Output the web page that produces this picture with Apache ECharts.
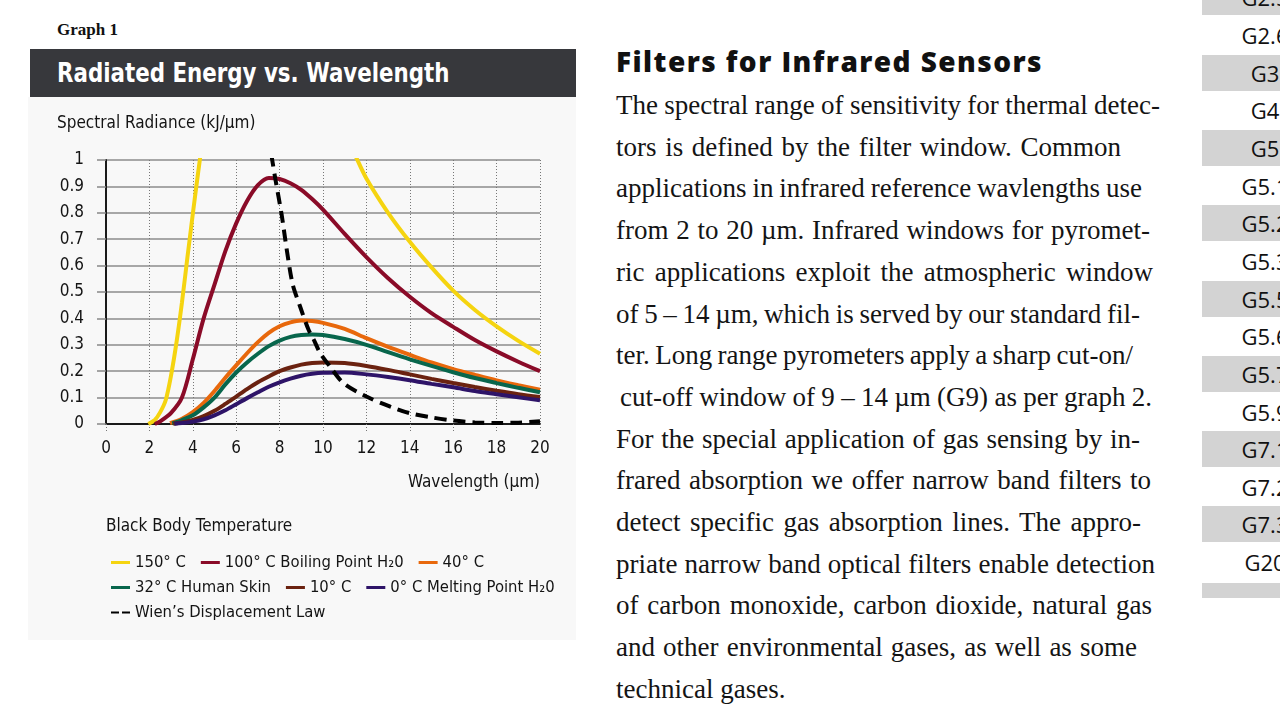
<!DOCTYPE html>
<html>
<head>
<meta charset="utf-8">
<title>Radiated Energy vs. Wavelength</title>
<script src="https://cdn.jsdelivr.net/npm/echarts@6/dist/echarts.min.js"></script>
<style>
  html, body { margin: 0; padding: 0; background: #fff; }
  body { width: 1280px; height: 720px; position: relative; overflow: hidden; }
  #panel { position: absolute; left: 28px; top: 97px; width: 548px; height: 543px; background: #f8f8f8; }
  #chart { position: absolute; left: 0; top: 0; width: 600px; height: 720px; }
  #graphNo { position: absolute; left: 57px; top: 20px; font: bold 17px 'Liberation Serif', serif; color: #111; }
  #titleBar { position: absolute; left: 30px; top: 49px; width: 546px; height: 48px; background: #37383c; }
  #titleBar span { position: absolute; left: 27px; top: 8px; color: #fff; line-height: 32px; white-space: pre;
    font: bold 27px 'DejaVu Sans Condensed', 'DejaVu Sans', sans-serif;
    transform: scaleX(0.88); transform-origin: left center; }
  #heading { position: absolute; left: 616px; top: 42px; font: 800 28px 'Open Sans', 'Noto Sans', sans-serif;
    color: #111; white-space: pre; }
  .line { position: absolute; left: 616px; font: 27px 'Liberation Serif', serif; color: #141414;
    white-space: pre; height: 40px; line-height: 40px; }
  .row { position: absolute; left: 1202px; width: 126px; text-align: center; font: 22px 'Open Sans', sans-serif; color: #111; }
</style>
</head>
<body>
<div id="panel"></div>
<div id="graphNo">Graph 1</div>
<div id="titleBar"><span>Radiated Energy vs. Wavelength</span></div>
<div id="chart"></div>
<div id="heading">Filters for Infrared Sensors</div>
<div id="text"></div>
<div id="table"></div>
<script>
// wavelength (µm) / spectral radiance (kJ/µm)
const wavelength150 = [1.95, 2.25, 2.5, 2.75, 3.0, 3.25, 3.5, 3.75, 4.0, 4.25, 4.5, 5, 5.5, 6, 7, 8, 9, 10, 11, 11.5, 12, 13, 14, 15, 16, 17, 18, 19, 20];
const radiance150  = [0, 0.015, 0.045, 0.09, 0.185, 0.31, 0.46, 0.63, 0.795, 0.955, 1.1, 1.33, 1.5, 1.62, 1.72, 1.65, 1.49, 1.3, 1.1, 1.015, 0.93, 0.8, 0.69, 0.593, 0.505, 0.432, 0.37, 0.315, 0.266];

const wavelength100 = [2.25, 2.5, 3.0, 3.5, 4.0, 4.5, 5.0, 5.5, 6.0, 6.5, 7.0, 7.5, 8.0, 8.5, 9.0, 9.5, 10, 11, 12, 13, 14, 15, 16, 17, 18, 19, 20];
const radiance100  = [0, 0.01, 0.042, 0.1, 0.245, 0.4, 0.528, 0.655, 0.76, 0.845, 0.905, 0.932, 0.928, 0.912, 0.887, 0.852, 0.812, 0.72, 0.632, 0.552, 0.482, 0.42, 0.368, 0.318, 0.275, 0.236, 0.2];

const wavelength40 = [2.95, 3.5, 4, 4.5, 5, 5.5, 6, 6.5, 7, 7.5, 8, 8.5, 9, 9.5, 10, 11, 12, 13, 14, 15, 16, 17, 18, 19, 20];
const radiance40  = [0.003, 0.02, 0.045, 0.08, 0.125, 0.175, 0.222, 0.268, 0.31, 0.345, 0.37, 0.385, 0.392, 0.39, 0.383, 0.36, 0.325, 0.292, 0.262, 0.233, 0.208, 0.186, 0.165, 0.147, 0.13];

const wavelength32 = [3.05, 3.5, 4, 4.5, 5, 5.5, 6, 6.5, 7, 7.5, 8, 8.5, 9, 9.5, 10, 11, 12, 13, 14, 15, 16, 17, 18, 19, 20];
const radiance32  = [0.002, 0.015, 0.033, 0.063, 0.1, 0.15, 0.195, 0.233, 0.266, 0.295, 0.316, 0.33, 0.337, 0.339, 0.337, 0.322, 0.3, 0.272, 0.245, 0.22, 0.196, 0.174, 0.155, 0.137, 0.12];

const wavelength10 = [3.1, 3.5, 4, 4.5, 5, 5.5, 6, 6.5, 7, 7.5, 8, 8.5, 9, 9.5, 10, 11, 12, 13, 14, 15, 16, 17, 18, 19, 20];
const radiance10  = [0.001, 0.006, 0.015, 0.03, 0.05, 0.076, 0.104, 0.132, 0.158, 0.18, 0.2, 0.214, 0.225, 0.231, 0.233, 0.231, 0.22, 0.205, 0.188, 0.171, 0.155, 0.14, 0.126, 0.113, 0.102];

const wavelength0 = [3.15, 3.5, 4, 4.5, 5, 5.5, 6, 6.5, 7, 7.5, 8, 8.5, 9, 9.5, 10, 11, 12, 13, 14, 15, 16, 17, 18, 19, 20];
const radiance0  = [0.001, 0.004, 0.009, 0.018, 0.033, 0.052, 0.075, 0.098, 0.12, 0.141, 0.158, 0.172, 0.183, 0.19, 0.194, 0.195, 0.188, 0.178, 0.166, 0.152, 0.139, 0.125, 0.113, 0.101, 0.09];

const wavelengthWien = [7.62, 7.8, 8.1, 8.33, 8.6, 8.94, 9.32, 9.6, 9.86, 10.32, 10.94, 12, 13.1, 14, 15, 16, 17, 18, 19, 20];
const radianceWien  = [1.02, 0.93, 0.79, 0.66, 0.53, 0.446, 0.36, 0.315, 0.27, 0.218, 0.155, 0.104, 0.066, 0.041, 0.025, 0.013, 0.006, 0.004, 0.005, 0.01];

const names = ['150° C', '100° C Boiling Point H₂0', '40° C', '32° C Human Skin', '10° C', '0° C Melting Point H₂0', 'Wien’s Displacement Law'];
const colors = ['#f5d410', '#8a0b28', '#e8680c', '#08664c', '#6b2210', '#2e1468', '#000000'];

const bodyLines = [
  'The spectral range of sensitivity for thermal detec-',
  'tors is defined by the filter window. Common',
  'applications in infrared reference wavlengths use',
  'from 2 to 20 µm. Infrared windows for pyromet-',
  'ric applications exploit the atmospheric window',
  'of 5 – 14 µm, which is served by our standard fil-',
  'ter. Long range pyrometers apply a sharp cut-on/',
  'cut-off window of 9 – 14 µm (G9) as per graph 2.',
  'For the special application of gas sensing by in-',
  'frared absorption we offer narrow band filters to',
  'detect specific gas absorption lines. The appro-',
  'priate narrow band optical filters enable detection',
  'of carbon monoxide, carbon dioxide, natural gas',
  'and other environmental gases, as well as some',
  'technical gases.'
];
const lineStarts = [616, 616, 616, 616, 616, 616, 616, 620, 616, 616, 616, 616, 616, 616, 616];
const lineEnds = [1160, 1121, 1142, 1150, 1153, 1140, 1133, 1152, 1140, 1151, 1141, 1155, 1152, 1137, 0];

const tableRows = ['G2.5', 'G2.6', 'G3', 'G4', 'G5', 'G5.1', 'G5.2', 'G5.3', 'G5.5', 'G5.6', 'G5.7', 'G5.9', 'G7.1', 'G7.2', 'G7.3', 'G20', ''];

function pairs(xs, ys) {
  return xs.map(function (x, i) { return [x, ys[i]]; });
}

// heading stretched to the width it has on the page
const heading = document.getElementById('heading');
const headW = heading.getBoundingClientRect().width;
heading.style.letterSpacing = ((1043 - 616 - headW) / heading.textContent.length) + 'px';

// paragraph lines, spread to the line ends of the page
const textBox = document.getElementById('text');
bodyLines.forEach(function (t, i) {
  const d = document.createElement('div');
  d.className = 'line';
  d.textContent = t;
  d.style.top = (85 + i * 41.7) + 'px';
  d.style.left = lineStarts[i] + 'px';
  textBox.appendChild(d);
  if (lineEnds[i]) {
    const natural = d.getBoundingClientRect().width;
    const spaces = t.split(' ').length - 1;
    d.style.wordSpacing = ((lineEnds[i] - lineStarts[i] - natural) / spaces) + 'px';
  }
});

// table strip on the right
const table = document.getElementById('table');
tableRows.forEach(function (t, i) {
  const c = 35 + (i - 1) * 37.65;
  const d = document.createElement('div');
  d.className = 'row';
  d.textContent = t;
  let top = c - 18, h = 36;
  if (i === tableRows.length - 1) { top = 583; h = 15; }
  d.style.top = top + 'px';
  d.style.height = h + 'px';
  d.style.lineHeight = '36px';
  if (i % 2 === 0) d.style.background = '#d3d3d3';
  table.appendChild(d);
});

const condensed = "'DejaVu Sans Condensed', 'DejaVu Sans', sans-serif";
const chart = echarts.init(document.getElementById('chart'), null, { renderer: 'canvas' });

const seriesData = [
  pairs(wavelength150, radiance150),
  pairs(wavelength100, radiance100),
  pairs(wavelength40, radiance40),
  pairs(wavelength32, radiance32),
  pairs(wavelength10, radiance10),
  pairs(wavelength0, radiance0),
  pairs(wavelengthWien, radianceWien)
];

const series = seriesData.map(function (d, i) {
  return {
    name: names[i],
    type: 'line',
    data: d,
    smooth: 0.3,
    symbol: 'none',
    clip: true,
    color: colors[i],
    lineStyle: {
      width: 4,
      color: colors[i],
      type: i === 6 ? [12, 7] : 'solid'
    },
    z: i === 6 ? 5 : 3
  };
});

function legendRow(items, top) {
  return {
    top: top,
    left: 106,
    orient: 'horizontal',
    itemWidth: 19,
    itemHeight: 3,
    itemGap: 15,
    icon: 'rect',
    textStyle: { fontFamily: condensed, fontSize: 16.5, color: '#141414' },
    data: items.map(function (n) {
      if (n === names[6]) return { name: n, icon: 'path://M0,0h8v2h-8z M11,0h8v2h-8z' };
      return n;
    })
  };
}

const option = {
  animation: false,
  grid: { left: 106, top: 160, width: 434, height: 264, containLabel: false },
  xAxis: {
    type: 'value',
    min: 0,
    max: 20,
    interval: 2,
    axisLine: { show: true, onZero: false, lineStyle: { color: '#1a1a1a', width: 2 } },
    axisTick: { show: true, length: 9, lineStyle: { color: '#777', type: [1, 2] } },
    axisLabel: { margin: 16, fontFamily: condensed, fontSize: 17, color: '#141414' },
    splitLine: { show: true, lineStyle: { color: '#777', width: 1, type: [1, 2] } }
  },
  yAxis: {
    type: 'value',
    min: 0,
    max: 1,
    interval: 0.1,
    axisLine: { show: true, lineStyle: { color: '#1a1a1a', width: 2 } },
    axisTick: { show: true, length: 9, lineStyle: { color: '#888', width: 1.5 } },
    axisLabel: { margin: 22, fontFamily: condensed, fontSize: 17, color: '#141414',
      formatter: function (v) { return String(Math.round(v * 10) / 10); } },
    splitLine: { show: true, lineStyle: { color: '#8c8c8c', width: 1.5 } }
  },
  legend: [
    legendRow([names[0], names[1], names[2]], 549),
    legendRow([names[3], names[4], names[5]], 574),
    legendRow([names[6]], 599)
  ],
  graphic: [
    { type: 'text', left: 57, top: 115, style: { text: 'Spectral Radiance (kJ/µm)', font: '17px ' + condensed, fill: '#141414' } },
    { type: 'text', right: 60, top: 474, style: { text: 'Wavelength (µm)', font: '17px ' + condensed, fill: '#141414' } },
    { type: 'text', left: 106, top: 518, style: { text: 'Black Body Temperature', font: '17px ' + condensed, fill: '#141414' } }
  ],
  series: series
};

chart.setOption(option);
</script>
</body>
</html>
